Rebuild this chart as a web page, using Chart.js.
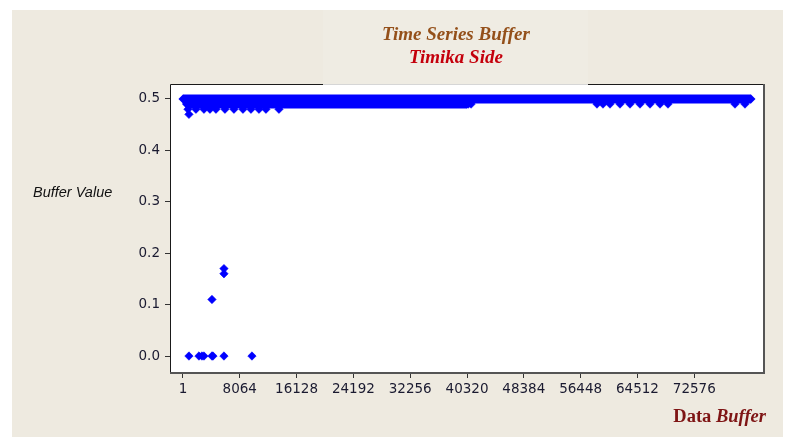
<!DOCTYPE html>
<html>
<head>
<meta charset="utf-8">
<script src="https://cdn.jsdelivr.net/npm/chart.js@4"></script>
<style>
  html, body { margin: 0; padding: 0; background: #fff; }
  #wrap { width: 787px; height: 441px; }
</style>
</head>
<body>
<div id="wrap"><canvas id="bufferChart" width="787" height="441"></canvas></div>
<script>
// --- data ---
// dense runs: the series sits on these levels without a break
const runLevel = [0.5, 0.49];
const runStart = [1, 500];
const runEnd = [80630, 40320];

// scattered points away from the dense runs
const dipX = [852, 2272, 2698, 2982, 4118, 4260, 5821, 9796, 4118, 5821, 5821, 852,
    710, 1846, 2982, 3834, 4685, 5963, 7240, 8518, 9654, 10790, 11782, 13628,
    40500, 40900, 58768, 59620, 60614, 62033, 63453, 64872, 66292, 67711, 68847, 78356, 79775];
const dipY = [0, 0, 0, 0, 0, 0, 0, 0, 0.11, 0.16, 0.17, 0.47,
    0.48, 0.48, 0.48, 0.48, 0.48, 0.48, 0.48, 0.48, 0.48, 0.48, 0.48, 0.48,
    0.49, 0.49, 0.49, 0.49, 0.49, 0.49, 0.49, 0.49, 0.49, 0.49, 0.49, 0.49, 0.49];

const xTicks = [1, 8064, 16128, 24192, 32256, 40320, 48384, 56448, 64512, 72576];
const yTicks = [0, 0.1, 0.2, 0.3, 0.4, 0.5];

const BLUE = '#0000ff';

const runSets = runLevel.map((lvl, i) => ({
    data: [{ x: runStart[i], y: lvl }, { x: runEnd[i], y: lvl }],
    showLine: true,
    borderColor: BLUE,
    borderWidth: 9,
    borderCapStyle: 'butt',
    backgroundColor: BLUE,
    pointStyle: 'rectRot',
    pointRadius: 4.5,
    pointBorderWidth: 0
}));

const dipSet = {
    data: dipX.map((x, i) => ({ x: x, y: dipY[i] })),
    backgroundColor: BLUE,
    borderColor: BLUE,
    pointStyle: 'rectRot',
    pointRadius: 4.2,
    pointBorderWidth: 0.6
};

// background panels, frame and all the free text
const framePlugin = {
    id: 'frame',
    beforeDraw(chart) {
        const { ctx, chartArea: a } = chart;
        ctx.save();
        ctx.fillStyle = '#ffffff';
        ctx.fillRect(0, 0, chart.width, chart.height);
        ctx.fillStyle = '#eeeae0';
        ctx.fillRect(12, 10, 771, 427);
        ctx.fillStyle = '#ffffff';
        ctx.fillRect(a.left, a.top, a.right - a.left, a.bottom - a.top);
        // the title box sits over the top of the plot frame
        ctx.fillStyle = '#efece3';
        ctx.fillRect(323, 10, 265, a.top - 10);
        ctx.restore();
    },
    afterDraw(chart) {
        const { ctx, chartArea: a } = chart;
        ctx.save();
        ctx.lineWidth = 1;
        ctx.strokeStyle = '#1a1a1a';
        ctx.beginPath();
        ctx.moveTo(a.left + 0.5, a.bottom);
        ctx.lineTo(a.left + 0.5, a.top + 0.5);
        ctx.lineTo(323, a.top + 0.5);
        ctx.moveTo(588, a.top + 0.5);
        ctx.lineTo(a.right, a.top + 0.5);
        ctx.stroke();
        ctx.strokeStyle = '#d6d6d6';
        ctx.beginPath();
        ctx.moveTo(323, a.top + 0.5);
        ctx.lineTo(588, a.top + 0.5);
        ctx.stroke();
        ctx.lineWidth = 2;
        ctx.strokeStyle = '#555555';
        ctx.beginPath();
        ctx.moveTo(a.right, a.top);
        ctx.lineTo(a.right, a.bottom);
        ctx.lineTo(a.left, a.bottom);
        ctx.stroke();

        ctx.textAlign = 'center';
        ctx.textBaseline = 'alphabetic';
        ctx.font = 'italic bold 19px "Liberation Serif"';
        ctx.fillStyle = '#94501a';
        ctx.fillText('Time Series Buffer', 456, 40);
        ctx.fillStyle = '#c4000c';
        ctx.fillText('Timika Side', 456, 63);

        ctx.textAlign = 'left';
        ctx.font = 'italic 14.5px "Liberation Sans"';
        ctx.fillStyle = '#111111';
        ctx.fillText('Buffer Value', 33, 197);

        ctx.fillStyle = '#7e1414';
        ctx.font = 'bold 18.5px "Liberation Serif"';
        const w1 = ctx.measureText('Data ').width;
        ctx.font = 'italic bold 18.5px "Liberation Serif"';
        const w2 = ctx.measureText('Buffer').width;
        const x0 = 766 - w1 - w2;
        ctx.font = 'bold 18.5px "Liberation Serif"';
        ctx.fillText('Data ', x0, 422);
        ctx.font = 'italic bold 18.5px "Liberation Serif"';
        ctx.fillText('Buffer', x0 + w1, 422);
        ctx.restore();
    }
};

const tickFont = { family: '"DejaVu Sans"', size: 13.5 };

new Chart(document.getElementById('bufferChart'), {
    type: 'scatter',
    data: { datasets: [...runSets, dipSet] },
    options: {
        responsive: false,
        animation: false,
        layout: { padding: { left: 0, top: 84, right: 23, bottom: 0 } },
        plugins: {
            legend: { display: false },
            tooltip: { enabled: false }
        },
        scales: {
            x: {
                type: 'linear',
                min: -1838,
                max: 82475,
                afterFit: (s) => { s.height = 68; },
                afterBuildTicks: (s) => { s.ticks = xTicks.map(v => ({ value: v })); },
                border: { display: false },
                grid: { drawOnChartArea: false, drawTicks: true, tickLength: 5, color: '#333333' },
                ticks: { color: '#1a1a30', font: tickFont, padding: 3, maxRotation: 0, autoSkip: false,
                    callback: (v) => String(v) }
            },
            y: {
                min: -0.033,
                max: 0.529,
                afterFit: (s) => { s.width = 170; },
                afterBuildTicks: (s) => { s.ticks = yTicks.map(v => ({ value: v })); },
                border: { display: false },
                grid: { drawOnChartArea: false, drawTicks: true, tickLength: 5, color: '#333333' },
                ticks: { color: '#1a1a30', font: tickFont, padding: 5,
                    callback: (v) => v.toFixed(1) }
            }
        }
    },
    plugins: [framePlugin]
});
</script>
</body>
</html>
